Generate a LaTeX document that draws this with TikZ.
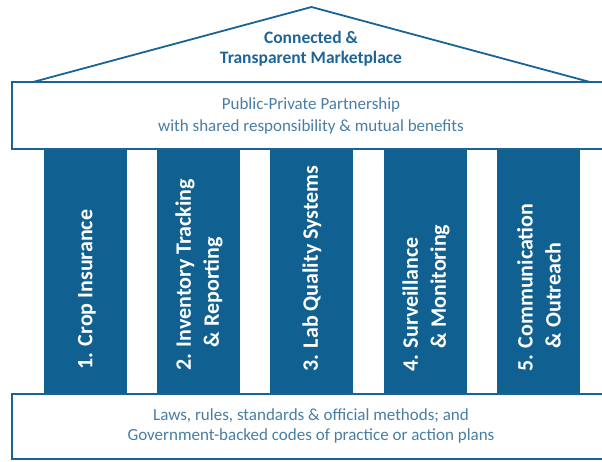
\documentclass[tikz,border=0pt]{standalone}
\usepackage{fontspec}
\setmainfont{Carlito}
\usepackage{tikz}
\usetikzlibrary{positioning,calc}
\definecolor{pillarblue}{RGB}{16,96,145}
\definecolor{edgeblue}{RGB}{27,99,148}
\definecolor{roofblue}{RGB}{31,100,150}
\definecolor{textblue}{RGB}{72,126,166}

\begin{document}
\begin{tikzpicture}[x=1pt,y=-1pt,
    pillartext/.style={rotate=90, anchor=west, align=left, text=white, inner sep=0pt,
      font=\fontsize{22}{28}\selectfont\bfseries},
    beamtext/.style={textblue, align=center, inner sep=0pt}]
    \clip (0,0) rectangle (602,461);
    % roof
    \draw[edgeblue, line width=1.8pt] (33,82) -- (311.5,7) -- (590,82);
    \node[roofblue, align=center, inner sep=0pt, font=\fontsize{17.5}{20}\selectfont\bfseries] (market) at (311,49) {Connected \&\\Transparent Marketplace};

    % beam
    \draw[edgeblue, line width=1.8pt, fill=white] (12,82) rectangle (608,149);
    \node[beamtext, font=\fontsize{17}{22}\selectfont] (partnership) at (311,116) {Public-Private Partnership\\with shared responsibility \& mutual benefits};

    % pillars
    \fill[pillarblue] (44,150) rectangle (127,393);
    \fill[pillarblue] (157,150) rectangle (240,393);
    \fill[pillarblue] (270,150) rectangle (353,393);
    \fill[pillarblue] (384,150) rectangle (467,393);
    \fill[pillarblue] (497,150) rectangle (580,393);
    \node[pillartext] (insurance) at (87,370) {1. Crop Insurance};
    \node[pillartext] (inventory) at (199,371) {2. Inventory Tracking\\\hphantom{2. }\& Reporting};
    \node[pillartext] (lab) at (312,372) {3. Lab Quality Systems};
    \node[pillartext] (surveillance) at (426,372) {4. Surveillance\\\hphantom{4. }\& Monitoring};
    \node[pillartext] (outreach) at (539,372) {5. Communication\\\hphantom{5. }\& Outreach};

    % base
    \draw[edgeblue, line width=1.5pt, fill=white] (12,394) rectangle (608,459);
    \node[beamtext, font=\fontsize{17}{19.5}\selectfont] (laws) at (311,426) {Laws, rules, standards \& official methods; and\\Government-backed codes of practice or action plans};
\end{tikzpicture}
\end{document}
